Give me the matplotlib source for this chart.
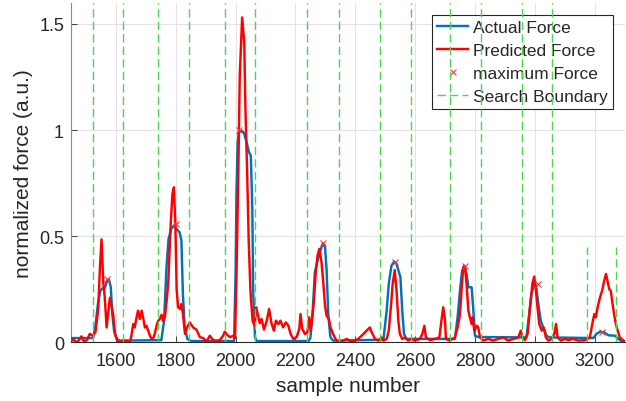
import matplotlib
matplotlib.use('Agg')
import matplotlib.pyplot as plt

plt.rcParams['font.family'] = ['Liberation Sans', 'DejaVu Sans']

# ---------------- data ----------------
actual_x = [1450, 1524, 1531, 1540, 1548, 1555, 1563, 1570, 1577, 1583, 1588, 1594, 1602, 1613,
            1752, 1761, 1769, 1776, 1785, 1794, 1802, 1813, 1819, 1824, 1830, 1839, 1850,
            1995, 2000, 2003, 2007, 2011, 2020, 2028, 2037, 2045, 2051, 2056, 2059, 2065, 2070,
            2244, 2250, 2257, 2265, 2273, 2282, 2291, 2299, 2304, 2310, 2317, 2326,
            2494, 2505, 2512, 2521, 2530, 2538, 2546, 2551, 2557, 2563, 2571,
            2733, 2742, 2750, 2757, 2764, 2772, 2778, 2789, 2794, 2800, 2811,
            2972, 2980, 2989, 2998, 3004, 3012, 3020, 3028, 3039, 3050,
            3195, 3206, 3218, 3232, 3246, 3268, 3279, 3290, 3300]
actual_y = [0.02, 0.02, 0.07, 0.18, 0.243, 0.254, 0.256, 0.287, 0.295, 0.26, 0.133, 0.055, 0.016, 0.008,
            0.01, 0.10, 0.35, 0.487, 0.534, 0.55, 0.535, 0.518, 0.48, 0.228, 0.07, 0.016, 0.006,
            0.006, 0.314, 0.706, 0.942, 0.989, 0.997, 0.986, 0.942, 0.895, 0.879, 0.628, 0.236, 0.024, 0.006,
            0.006, 0.02, 0.126, 0.33, 0.377, 0.424, 0.465, 0.448, 0.346, 0.126, 0.024, 0.008,
            0.012, 0.149, 0.275, 0.361, 0.38, 0.369, 0.33, 0.306, 0.149, 0.039, 0.016,
            0.016, 0.118, 0.243, 0.337, 0.361, 0.322, 0.259, 0.259, 0.165, 0.031, 0.025,
            0.023, 0.118, 0.228, 0.275, 0.267, 0.18, 0.102, 0.07, 0.031, 0.023,
            0.02, 0.039, 0.05, 0.047, 0.033, 0.031, 0.016, 0.005, 0.003]

pred_x = [1450, 1458, 1466, 1476, 1485, 1493, 1503, 1513, 1523, 1532, 1541, 1547, 1552, 1558, 1563,
          1569, 1580, 1591, 1597, 1608, 1620, 1636, 1647, 1652, 1658, 1663, 1669, 1674, 1680, 1686,
          1691, 1697, 1702, 1708, 1714, 1719, 1725, 1730, 1736, 1741, 1747, 1753, 1758, 1764, 1770,
          1775, 1783, 1789, 1794, 1799, 1803, 1808, 1814, 1819, 1824, 1831, 1838, 1847, 1858, 1869,
          1881, 1892, 1903, 1914, 1925, 1936, 1947, 1958, 1964, 1972, 1981, 1992, 1998, 2003, 2009,
          2014, 2022, 2029, 2033, 2039, 2044, 2050, 2057, 2064, 2069, 2076, 2081, 2087, 2095, 2104,
          2112, 2120, 2128, 2135, 2143, 2150, 2159, 2168, 2176, 2184, 2193, 2204, 2213, 2217, 2223,
          2232, 2240, 2246, 2251, 2257, 2262, 2268, 2274, 2280, 2287, 2293, 2299, 2304, 2312, 2317,
          2326, 2337, 2349, 2360, 2371, 2385, 2399, 2410, 2427, 2438, 2449, 2455, 2466, 2477, 2488,
          2494, 2505, 2512, 2519, 2525, 2532, 2538, 2544, 2549, 2557, 2566, 2577, 2588, 2599, 2616,
          2624, 2631, 2636, 2650, 2666, 2681, 2688, 2694, 2700, 2703, 2716, 2733, 2742, 2750, 2755,
          2761, 2767, 2772, 2778, 2783, 2789, 2792, 2798, 2806, 2811, 2817, 2828, 2844, 2861, 2878,
          2895, 2911, 2928, 2945, 2953, 2959, 2967, 2976, 2984, 2992, 2998, 3004, 3009, 3015, 3023,
          3030, 3037, 3045, 3056, 3065, 3071, 3076, 3087, 3101, 3112, 3128, 3145, 3168, 3184, 3192,
          3199, 3204, 3210, 3218, 3225, 3232, 3238, 3243, 3249, 3254, 3260, 3265, 3271, 3277, 3284,
          3296, 3300]
pred_y = [0.005, 0.015, 0.0, 0.008, 0.028, 0.005, 0.01, 0.04, 0.03, 0.05, 0.157, 0.36, 0.485, 0.28, 0.21,
          0.07, 0.21, 0.13, 0.04, 0.0, 0.005, 0.008, 0.0, 0.031, 0.086, 0.07, 0.117, 0.149, 0.11, 0.149,
          0.117, 0.07, 0.078, 0.055, 0.031, 0.016, 0.02, 0.04, 0.078, 0.1, 0.11, 0.13, 0.1, 0.12, 0.2,
          0.28, 0.55, 0.70, 0.73, 0.55, 0.25, 0.165, 0.157, 0.18, 0.134, 0.04, 0.07, 0.094, 0.07, 0.06,
          0.024, 0.02, 0.004, 0.031, 0.01, 0.008, 0.01, 0.03, 0.05, 0.035, 0.024, 0.031, 0.02, 0.31, 0.785,
          1.256, 1.53, 1.413, 1.099, 0.785, 0.471, 0.236, 0.10, 0.077, 0.165, 0.12, 0.09, 0.11, 0.06, 0.10,
          0.157, 0.09, 0.055, 0.102, 0.086, 0.102, 0.071, 0.094, 0.08, 0.039, 0.016, 0.024, 0.063, 0.133, 0.063,
          0.039, 0.047, 0.118, 0.055, 0.126, 0.2, 0.33, 0.408, 0.44, 0.38, 0.283, 0.173, 0.126, 0.11, 0.071,
          0.039, 0.008, 0.0, 0.008, 0.016, 0.005, 0.008, 0.016, 0.039, 0.055, 0.07, 0.047, 0.016, 0.008, 0.023,
          0.008, 0.016, 0.055, 0.165, 0.275, 0.34, 0.243, 0.102, 0.039, 0.016, 0.023, 0.008, 0.016, 0.008, 0.016,
          0.039, 0.078, 0.023, 0.01, 0.016, 0.023, 0.102, 0.165, 0.102, 0.016, 0.008, 0.023, 0.07, 0.133, 0.243,
          0.353, 0.353, 0.275, 0.149, 0.118, 0.086, 0.118, 0.055, 0.078, 0.07, 0.023, 0.008, 0.016, 0.008, 0.016,
          0.023, 0.008, 0.016, 0.023, 0.055, 0.023, 0.01, 0.039, 0.165, 0.275, 0.31, 0.243, 0.165, 0.086, 0.055,
          0.07, 0.023, 0.008, 0.016, 0.039, 0.086, 0.023, 0.008, 0.016, 0.01, 0.016, 0.008, 0.01, 0.023, 0.086,
          0.133, 0.118, 0.165, 0.212, 0.243, 0.29, 0.322, 0.29, 0.25, 0.243, 0.18, 0.133, 0.086, 0.055, 0.023,
          0.008, 0.005]

max_x = [1572, 1800, 2012, 2293, 2532, 2766, 3011, 3223]
max_y = [0.30, 0.557, 1.0, 0.466, 0.38, 0.361, 0.275, 0.047]

boundary_x = [1522, 1624, 1741, 1843, 1965, 2066, 2240, 2345,
              2482, 2586, 2716, 2819, 2956, 3056, 3173, 3273]
boundary_top = [1.6, 1.6, 1.6, 1.6, 1.6, 1.6, 1.6, 1.6,
                1.6, 1.6, 1.6, 1.6, 1.6, 1.6, 0.45, 0.45]

xticks = [1600, 1800, 2000, 2200, 2400, 2600, 2800, 3000, 3200]
yticks = [0, 0.5, 1, 1.5]
ytick_labels = ['0', '0.5', '1', '1.5']
series_labels = ['Actual Force', 'Predicted Force', 'maximum Force', 'Search Boundary']
x_label = 'sample number'
y_label = 'normalized force (a.u.)'

# ---------------- figure ----------------
fig = plt.figure(figsize=(6.26, 4.02), dpi=100)
ax = fig.add_axes([0.1134, 0.146, 0.8843, 0.845])

ax.plot(actual_x, actual_y, color='#0072BD', lw=1.75, label=series_labels[0], zorder=3)
ax.plot(pred_x, pred_y, color='#FF0000', lw=1.75, label=series_labels[1], zorder=4)
ax.plot(max_x, max_y, linestyle='none', marker='x', color='#FF3030', ms=5, mew=0.8,
        label=series_labels[2], zorder=5)
for i, (bx, bt) in enumerate(zip(boundary_x, boundary_top)):
    ax.plot([bx, bx], [0, bt], color='#4CD64C', lw=1.0, dashes=(6, 3),
            label=series_labels[3] if i == 0 else None, zorder=6)

ax.set_xlim(1450, 3300)
ax.set_ylim(0, 1.6)
ax.set_xticks(xticks)
ax.set_xticklabels([str(t) for t in xticks])
ax.set_yticks(yticks)
ax.set_yticklabels(ytick_labels)

ax.grid(True, color='#e3e3e3', lw=0.8, zorder=0)
ax.set_axisbelow(True)

for s in ['top', 'right']:
    ax.spines[s].set_visible(False)
ax.spines['left'].set_color('#8a8a8a')
ax.spines['bottom'].set_color('#262626')
ax.spines['left'].set_linewidth(0.8)
ax.spines['bottom'].set_linewidth(0.8)

ax.tick_params(axis='both', direction='in', length=4, width=0.6, colors='#262626',
               labelsize=13)
ax.tick_params(axis='x', pad=7)
ax.tick_params(axis='y', pad=5)

ax.set_xlabel(x_label, fontsize=15, color='#262626', labelpad=5)
ax.set_ylabel(y_label, fontsize=15, color='#262626', labelpad=4)

leg = ax.legend(loc='upper right', bbox_to_anchor=(0.979, 0.9635), borderaxespad=0,
                fontsize=12.5, frameon=True, fancybox=False, framealpha=1,
                edgecolor='#262626', handlelength=1.75, handletextpad=0.3,
                labelspacing=0.45, borderpad=0.3, numpoints=1)
leg.get_frame().set_linewidth(0.8)
for t in leg.get_texts():
    t.set_color('#262626')

fig.savefig('out.png', dpi=100)
